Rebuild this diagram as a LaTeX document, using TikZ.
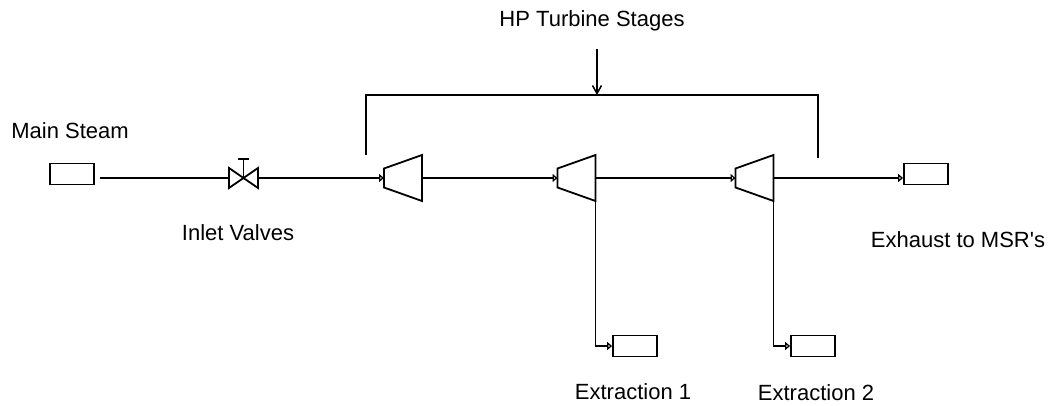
\documentclass[tikz,border=0pt]{standalone}
\usepackage{fontspec}
\setmainfont{Liberation Sans}
\usetikzlibrary{arrows.meta}

\tikzset{
	port/.style={draw, line width=1.8pt, minimum width=44pt, minimum height=21pt, inner sep=0pt},
	pipe/.style={line width=1.8pt},
	inport/.style={-{Triangle[open,length=5pt,width=8pt,line width=1.3pt]}},
	lbl/.style={font=\fontsize{22}{26}\selectfont, inner sep=0pt},
	turbine/.pic={
		\draw[pipe, line join=miter] (-19,-9.5) -- (-19,9.5) -- (19,23) -- (19,-23) -- cycle;
		\coordinate (-in) at (-19,0);
		\coordinate (-out) at (19,0);
		\coordinate (-bot) at (19,23);
	},
	valve/.pic={
		\draw[pipe, line join=miter] (-14.5,-10) -- (-14.5,10) -- (14.5,-10) -- (14.5,10) -- cycle;
		\draw[pipe] (0,0) -- (0,-19);
		\draw[pipe] (-5.5,-19) -- (5.5,-19);
		\coordinate (-in) at (-14.5,0);
		\coordinate (-out) at (14.5,0);
	}
}

\begin{document}
\begin{tikzpicture}[x=1pt,y=-1pt]
	\useasboundingbox (0,0) rectangle (1056,406);

	% boundary blocks
	\node[port] (steam) at (72,174) {};
	\node[port] (exhaust) at (926,174) {};
	\node[port] (ext1) at (635,346) {};
	\node[port] (ext2) at (813,346) {};

	% valve and turbine stages
	\pic (v) at (243.5,178) {valve};
	\pic (t1) at (403,178) {turbine};
	\pic (t2) at (576.5,178) {turbine};
	\pic (t3) at (754.5,178) {turbine};

	\coordinate (steamout) at (100,178);
	\draw[pipe] (steamout) -- (v-in);
	\draw[pipe,inport] (v-out) -- (t1-in);
	\draw[pipe,inport] (t1-out) -- (t2-in);
	\draw[pipe,inport] (t2-out) -- (t3-in);
	\draw[pipe,inport] (t3-out) -- (t3-out -| exhaust.west);
	\draw[pipe,inport] (t2-bot) |- (ext1.west);
	\draw[pipe,inport] (t3-bot) |- (ext2.west);

	% bracket over the stages
	\draw[pipe] (366,155) -- (366,95) -- (818,95) -- (818,158);
	\coordinate (hptop) at (597,49);
	\coordinate (hpbot) at (597,95);
	\draw[line width=1.5pt,-{Straight Barb[length=8pt,width=9pt]}] (hptop) -- (hpbot);

	% labels
	\node[lbl] (lsteam) at (70,131) {Main Steam};
	\node[lbl] (lvalve) at (238,233) {Inlet Valves};
	\node[lbl] (lhp) at (592,21) {HP Turbine Stages};
	\node[lbl] (lexh) at (958,240) {Exhaust to MSR\textquotesingle s};
	\node[lbl] (lext1) at (633,392) {Extraction 1};
	\node[lbl] (lext2) at (816,393) {Extraction 2};
\end{tikzpicture}
\end{document}
